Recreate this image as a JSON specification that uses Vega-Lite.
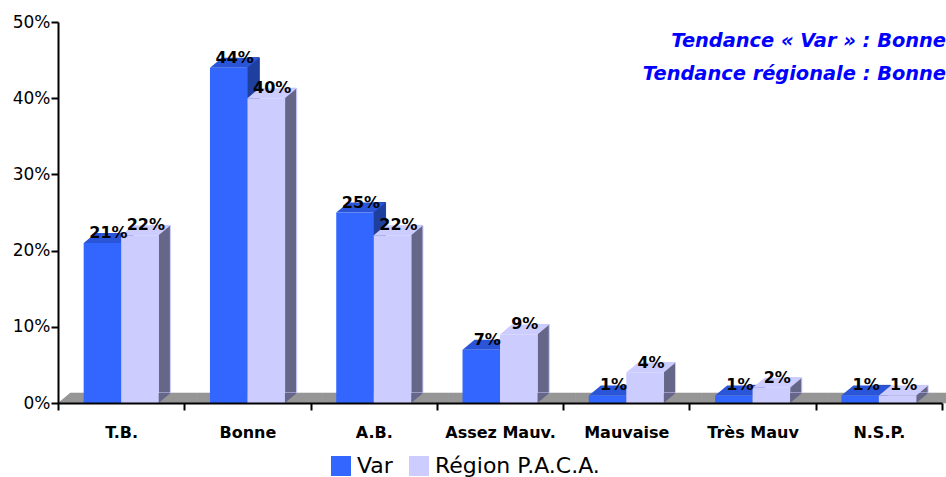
{
"$schema":"https://vega.github.io/schema/vega-lite/v6.json",
"width":884,"height":381,
"autosize":{"type":"none"},
"padding":{"left":58,"top":22,"right":4,"bottom":74},
"background":"#ffffff",
"title":{"text":["Tendance « Var » : Bonne","Tendance régionale : Bonne"],"orient":"top","anchor":"end","frame":"group","offset":-71,"dx":4,"align":"right","color":"#0000ff","font":"DejaVu Sans","fontStyle":"italic","fontWeight":"bold","fontSize":19.4,"lineHeight":33},
"config":{"view":{"stroke":null}},
"data":{"values":[
{"c":"T.B.","s":"Var","v":21,"l":"21%"},{"c":"T.B.","s":"Région P.A.C.A.","v":22,"l":"22%"},
{"c":"Bonne","s":"Var","v":44,"l":"44%"},{"c":"Bonne","s":"Région P.A.C.A.","v":40,"l":"40%"},
{"c":"A.B.","s":"Var","v":25,"l":"25%"},{"c":"A.B.","s":"Région P.A.C.A.","v":22,"l":"22%"},
{"c":"Assez Mauv.","s":"Var","v":7,"l":"7%"},{"c":"Assez Mauv.","s":"Région P.A.C.A.","v":9,"l":"9%"},
{"c":"Mauvaise","s":"Var","v":1,"l":"1%"},{"c":"Mauvaise","s":"Région P.A.C.A.","v":4,"l":"4%"},
{"c":"Très Mauv","s":"Var","v":1,"l":"1%"},{"c":"Très Mauv","s":"Région P.A.C.A.","v":2,"l":"2%"},
{"c":"N.S.P.","s":"Var","v":1,"l":"1%"},{"c":"N.S.P.","s":"Région P.A.C.A.","v":1,"l":"1%"}
]},
"encoding":{
"x":{"field":"c","type":"nominal","title":null,"sort":null,
"scale":{"domain":["T.B.","Bonne","A.B.","Assez Mauv.","Mauvaise","Très Mauv","N.S.P."],"paddingInner":0,"paddingOuter":0},
"axis":{"zindex":1,"tickBand":"extent","labelAngle":0,"domainColor":"#000000","domainWidth":2,"tickColor":"#000000","tickWidth":2,"tickSize":7,"labelPadding":14,"labelFont":"DejaVu Sans","labelFontWeight":"bold","labelFontSize":16,"labelColor":"#000000"}},
"y":{"field":"v","type":"quantitative","title":null,
"scale":{"domain":[0,50],"nice":false},
"axis":{"zindex":1,"values":[0,10,20,30,40,50],"grid":false,"labelExpr":"datum.value+'%'","domainColor":"#000000","domainWidth":2,"tickColor":"#000000","tickWidth":2,"tickSize":7,"labelPadding":1,"labelFont":"DejaVu Sans","labelFontSize":17,"labelColor":"#000000"}}
},
"resolve":{"scale":{"xOffset":"independent","color":"independent"}},
"layer":[
{"transform":[{"filter":"datum.s==='Var'"}],
 "mark":{"type":"bar","color":"#969696","stroke":"#969696","xOffset":12,"strokeWidth":0.6},
 "encoding":{"y":{"datum":0},"y2":{"datum":1.31}}},
{"transform":[{"filter":"datum.s==='Var'&&datum.c==='T.B.'"}],
 "mark":{"type":"point","filled":true,"size":4,"opacity":1,"strokeWidth":0,"color":"#969696","shape":"M-63.15 0 L-51.15 -10 L-51.15 0 Z"},
 "encoding":{"y":{"datum":0}}},
{"mark":{"type":"bar","yOffset":-10,"y2Offset":-10,"strokeWidth":1},
 "encoding":{"y2":{"datum":0},
 "xOffset":{"field":"s","type":"nominal","scale":{"domain":["Var","Région P.A.C.A."],"range":[63,112.4],"paddingInner":0.679,"paddingOuter":0}},
 "color":{"field":"s","type":"nominal","legend":null,"scale":{"domain":["Var","Région P.A.C.A."],"range":["#1f3f9f","#666688"]}},
 "stroke":{"condition":{"test":"datum.s==='Var'","value":"#1f3f9f"},"value":"#ccccff"}}},
{"mark":{"type":"point","filled":true,"size":4,"opacity":1,"strokeWidth":0,"shape":"M18.7 0 L30.7 -10 L18.7 -10 Z"},
 "encoding":{"y":{"datum":0},
 "xOffset":{"field":"s","type":"nominal","scale":{"type":"band","domain":["Var","Région P.A.C.A."],"range":[0,126.29],"paddingInner":0,"paddingOuter":0.685}},
 "color":{"field":"s","type":"nominal","legend":null,"scale":{"domain":["Var","Région P.A.C.A."],"range":["#1f3f9f","#666688"]}}}},
{"mark":{"type":"point","filled":true,"size":4,"opacity":1,"strokeWidth":0,"shape":"M-18.7 0 L18.7 0 L30.7 -10 L-6.7 -10 Z"},
 "encoding":{
 "xOffset":{"field":"s","type":"nominal","scale":{"type":"band","domain":["Var","Région P.A.C.A."],"range":[0,126.29],"paddingInner":0,"paddingOuter":0.685}},
 "color":{"field":"s","type":"nominal","legend":null,"scale":{"domain":["Var","Région P.A.C.A."],"range":["#2b55d8","#ccccff"]}}}},
{"mark":{"type":"bar","strokeWidth":0},
 "encoding":{"y2":{"datum":0},
 "xOffset":{"field":"s","type":"nominal","scale":{"domain":["Var","Région P.A.C.A."],"range":[0,126.29],"paddingInner":0,"paddingOuter":0.685}},
 "color":{"field":"s","type":"nominal","title":null,
  "scale":{"domain":["Var","Région P.A.C.A."],"range":["#3366ff","#ccccff"]},
  "legend":{"orient":"none","legendX":272,"legendY":433,"direction":"horizontal","symbolType":"square","symbolSize":400,"symbolStrokeWidth":0,"labelFont":"DejaVu Sans","labelFontSize":22,"labelLimit":300,"labelColor":"#000000","labelOffset":5,"columnPadding":15,"symbolOpacity":1}}}},
{"mark":{"type":"text","dx":6,"dy":-10,"font":"DejaVu Sans","fontWeight":"bold","fontSize":16,"color":"#000000"},
 "encoding":{"text":{"field":"l","type":"nominal"},
 "xOffset":{"field":"s","type":"nominal","scale":{"type":"band","domain":["Var","Région P.A.C.A."],"range":[0,126.29],"paddingInner":0,"paddingOuter":0.685}}}}
]
}
